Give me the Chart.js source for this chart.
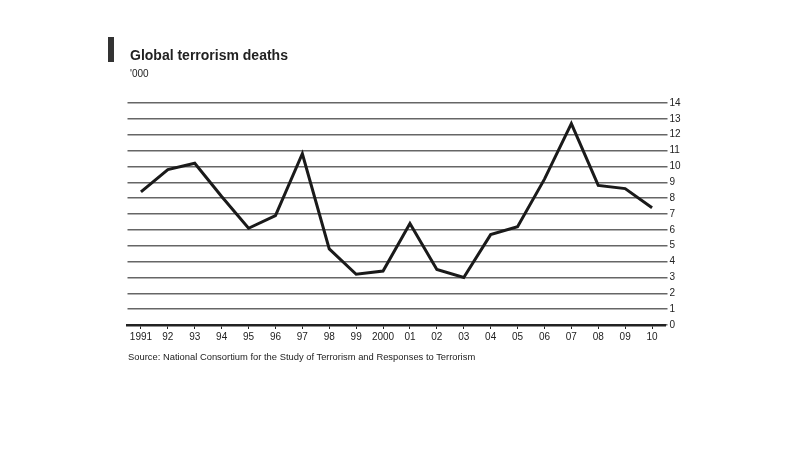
<!DOCTYPE html>
<html>
<head>
<meta charset="utf-8">
<script src="https://cdn.jsdelivr.net/npm/chart.js@4/dist/chart.umd.min.js"></script>
<style>
  body { margin: 0; background: #fff; font-family: "Liberation Sans", Arial, sans-serif; }
  #wrap { position: relative; width: 810px; height: 464px; }
  #chart { position: absolute; left: 0; top: 0; }
  .bar { position: absolute; left: 108px; top: 37px; width: 6px; height: 25px; background: #333; }
  .title { position: absolute; left: 130px; top: 47px; font-size: 14px; font-weight: bold; color: #222; }
  .sub { position: absolute; left: 130px; top: 68px; font-size: 10px; color: #222; }
  .source { position: absolute; left: 128px; top: 351px; font-size: 9.4px; color: #222; }
</style>
</head>
<body>
<div id="wrap">
  <canvas id="chart" width="810" height="464"></canvas>
  <div class="bar"></div>
  <div class="title">Global terrorism deaths</div>
  <div class="sub">'000</div>
  <div class="source">Source: National Consortium for the Study of Terrorism and Responses to Terrorism</div>
</div>
<script>
const years = ["1991", "92", "93", "94", "95", "96", "97", "98", "99", "2000",
               "01", "02", "03", "04", "05", "06", "07", "08", "09", "10"];
const deaths = [8.4, 9.8, 10.2, 8.1, 6.1, 6.9, 10.8, 4.8, 3.2, 3.4,
                6.4, 3.5, 3.0, 5.7, 6.2, 9.2, 12.7, 8.8, 8.6, 7.4];
const yTicks = [0, 1, 2, 3, 4, 5, 6, 7, 8, 9, 10, 11, 12, 13, 14];

const ctx = document.getElementById("chart").getContext("2d");
new Chart(ctx, {
    type: "line",
    data: {
        labels: years,
        datasets: [{
            data: deaths,
            borderColor: "#1a1a1a",
            borderWidth: 3,
            pointRadius: 0,
            tension: 0,
            fill: false,
        }]
    },
    options: {
        responsive: false,
        animation: false,
        layout: { padding: { left: 127.5, top: 103, right: 114.5, bottom: 109 } },
        plugins: { legend: { display: false }, tooltip: { enabled: false } },
        scales: {
            x: {
                offset: true,
                afterFit: s => { s.height = 30; },
                grid: { drawOnChartArea: false, tickLength: 4, color: "#222" },
                border: { color: "#222", width: 2.5 },
                ticks: {
                    color: "#222", padding: 2, maxRotation: 0, autoSkip: false,
                    font: { family: "Liberation Sans", size: 10 }
                }
            },
            y: {
                position: "right",
                min: 0,
                max: 14,
                afterFit: s => { s.width = 30; },
                afterBuildTicks: s => { s.ticks = yTicks.map(v => ({ value: v })); },
                grid: { color: "#666", lineWidth: 1.5, tickLength: 2 },
                border: { display: false },
                ticks: {
                    color: "#222", padding: 2,
                    font: { family: "Liberation Sans", size: 10 }
                }
            }
        }
    }
});
</script>
</body>
</html>
